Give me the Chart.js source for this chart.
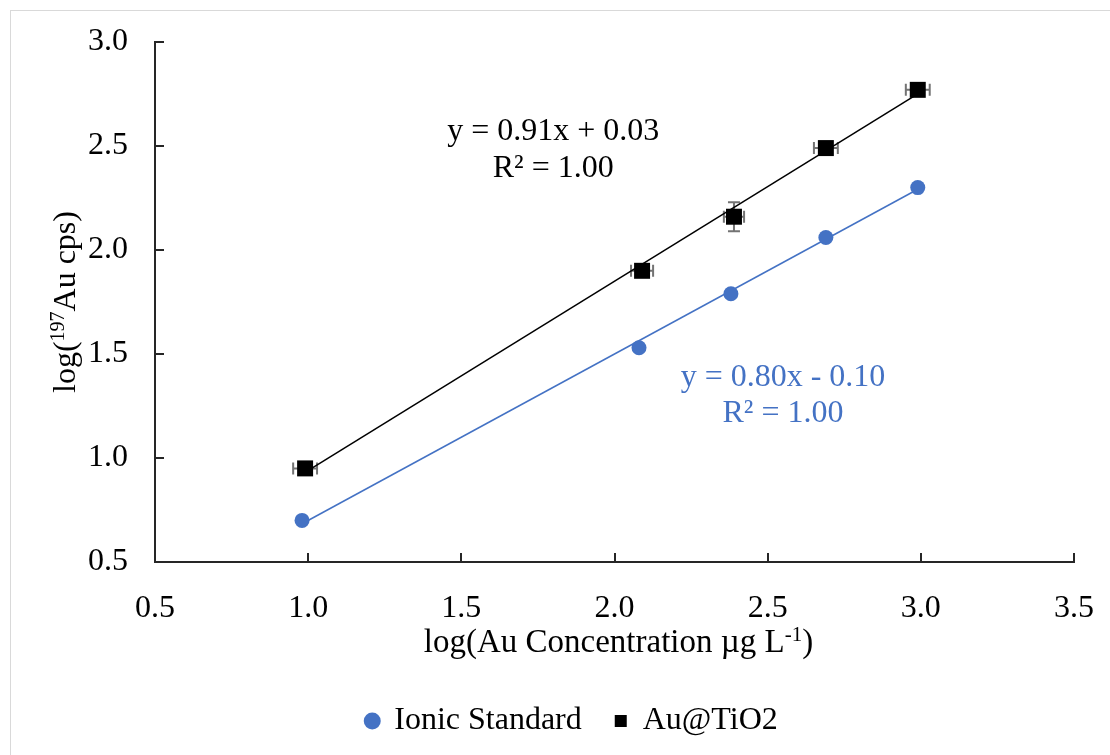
<!DOCTYPE html>
<html>
<head>
<meta charset="utf-8">
<script src="https://cdn.jsdelivr.net/npm/chart.js@4/dist/chart.umd.min.js"></script>
<style>
  html, body { margin: 0; padding: 0; background: #fff; }
  canvas { display: block; }
</style>
</head>
<body>
<canvas id="calib" width="1110" height="755"></canvas>
<script>
// log concentration (x) vs log counts (y) for both calibration sets
const ionicX = [0.98, 2.08, 2.38, 2.69, 2.99];
const ionicY = [0.70, 1.53, 1.79, 2.06, 2.30];
const auX = [0.99, 2.09, 2.39, 2.69, 2.99];
const auY = [0.95, 1.90, 2.16, 2.49, 2.77];
const auXErr = [0.039, 0.036, 0.033, 0.039, 0.039];
const auYErr = [0.01, 0.01, 0.07, 0.01, 0.01];

// linear fits as printed on the chart
const ionicFit = { slope: 0.80, intercept: -0.10 };
const auFit = { slope: 0.91, intercept: 0.03 };

const xTicks = [0.5, 1.0, 1.5, 2.0, 2.5, 3.0, 3.5];
const yTicks = [0.5, 1.0, 1.5, 2.0, 2.5, 3.0];

const BLUE = '#4472C4';
const FONT = '"Liberation Serif", "Times New Roman", serif';
const FS = 32;
const AXIS = '#262626';
const PLOT_BOTTOM = 562;
const PAD_BOTTOM = 8;

const pts = (xs, ys) => xs.map((x, i) => ({ x, y: ys[i] }));
const fitLine = (xs, fit) => {
  const lo = Math.min(...xs), hi = Math.max(...xs);
  return [lo, hi].map(x => ({ x, y: fit.slope * x + fit.intercept }));
};

// white page, thin frame, inward tick marks, error bars
const decor = {
  id: 'decor',
  beforeDraw(chart) {
    const ctx = chart.ctx;
    ctx.save();
    ctx.fillStyle = '#fff';
    ctx.fillRect(0, 0, chart.width, chart.height);
    ctx.strokeStyle = '#d9d9d9';
    ctx.lineWidth = 1;
    ctx.strokeRect(10.5, 10.5, chart.width + 20, chart.height + 20);
    ctx.restore();
  },
  beforeDatasetsDraw(chart) {
    const { ctx, scales: { x, y } } = chart;
    ctx.save();
    ctx.strokeStyle = '#737373';
    ctx.lineWidth = 2;
    const cap = 6;
    auX.forEach((vx, i) => {
      const px = x.getPixelForValue(vx), py = y.getPixelForValue(auY[i]);
      const x0 = x.getPixelForValue(vx - auXErr[i]), x1 = x.getPixelForValue(vx + auXErr[i]);
      const y0 = y.getPixelForValue(auY[i] + auYErr[i]), y1 = y.getPixelForValue(auY[i] - auYErr[i]);
      ctx.beginPath();
      ctx.moveTo(x0, py); ctx.lineTo(x1, py);
      ctx.moveTo(x0, py - cap); ctx.lineTo(x0, py + cap);
      ctx.moveTo(x1, py - cap); ctx.lineTo(x1, py + cap);
      ctx.moveTo(px, y0); ctx.lineTo(px, y1);
      ctx.moveTo(px - cap, y0); ctx.lineTo(px + cap, y0);
      ctx.moveTo(px - cap, y1); ctx.lineTo(px + cap, y1);
      ctx.stroke();
    });
    ctx.restore();
  },
  afterDraw(chart) {
    const { ctx, chartArea: a, scales: { x, y } } = chart;
    ctx.save();
    ctx.strokeStyle = AXIS;
    ctx.lineWidth = 2;
    ctx.beginPath();
    xTicks.forEach(v => {
      const px = Math.round(x.getPixelForValue(v));
      ctx.moveTo(px, a.bottom); ctx.lineTo(px, a.bottom - 9);
    });
    yTicks.forEach(v => {
      const py = Math.round(y.getPixelForValue(v));
      ctx.moveTo(a.left, py); ctx.lineTo(a.left + 9, py);
    });
    ctx.stroke();

    // fit equations
    const notes = [
      { x: 1.80, y: 2.53, text: 'y = 0.91x + 0.03', color: '#000' },
      { x: 1.80, y: 2.35, text: 'R² = 1.00', color: '#000' },
      { x: 2.55, y: 1.345, text: 'y = 0.80x - 0.10', color: BLUE },
      { x: 2.55, y: 1.175, text: 'R² = 1.00', color: BLUE }
    ];
    ctx.font = FS + 'px ' + FONT;
    ctx.textAlign = 'center';
    ctx.textBaseline = 'alphabetic';
    notes.forEach(n => {
      ctx.fillStyle = n.color;
      ctx.fillText(n.text, x.getPixelForValue(n.x), y.getPixelForValue(n.y));
    });

    // axis titles with superscripts
    const drawSup = (parts, cx, cy, size) => {
      const big = size + 'px ' + FONT, small = Math.round(size * 0.64) + 'px ' + FONT;
      let w = 0;
      parts.forEach(p => { ctx.font = p.sup ? small : big; w += ctx.measureText(p.t).width; });
      let cur = cx - w / 2;
      ctx.textAlign = 'left';
      ctx.fillStyle = '#000';
      parts.forEach(p => {
        ctx.font = p.sup ? small : big;
        ctx.fillText(p.t, cur, p.sup ? cy - 11 : cy);
        cur += ctx.measureText(p.t).width;
      });
    };
    drawSup([{ t: 'log(Au Concentration µg L' }, { t: '-1', sup: true }, { t: ')' }],
      (a.left + a.right) / 2 + 4, 652, 33);

    ctx.translate(75, (a.top + a.bottom) / 2);
    ctx.rotate(-Math.PI / 2);
    drawSup([{ t: 'log(' }, { t: '197', sup: true }, { t: 'Au cps)' }], 0, 0, FS);
    ctx.restore();
  }
};

new Chart(document.getElementById('calib'), {
  type: 'scatter',
  data: {
    datasets: [
      {
        label: 'Ionic Standard',
        data: pts(ionicX, ionicY),
        pointStyle: 'circle',
        pointRadius: 7.5,
        backgroundColor: BLUE,
        borderColor: BLUE,
        borderWidth: 0,
        order: 1
      },
      {
        label: 'Au@TiO2',
        data: pts(auX, auY),
        pointStyle: 'rect',
        pointRadius: 11.3,
        backgroundColor: '#000',
        borderColor: '#000',
        borderWidth: 0,
        order: 1
      },
      {
        label: 'fit-ionic',
        data: fitLine(ionicX, ionicFit),
        showLine: true,
        pointRadius: 0,
        borderColor: BLUE,
        borderWidth: 1.5,
        order: 2
      },
      {
        label: 'fit-au',
        data: fitLine(auX, auFit),
        showLine: true,
        pointRadius: 0,
        borderColor: '#000',
        borderWidth: 1.5,
        order: 2
      }
    ]
  },
  options: {
    responsive: false,
    animation: false,
    events: [],
    layout: { padding: { left: 70, right: 36, top: 42, bottom: PAD_BOTTOM } },
    scales: {
      x: {
        type: 'linear',
        min: 0.5,
        max: 3.5,
        afterFit: s => {
          const lg = s.chart.legend ? s.chart.legend.height : 0;
          s.height = s.chart.height - PAD_BOTTOM - lg - PLOT_BOTTOM;
          s.paddingLeft = 0;
          s.paddingRight = 0;
        },
        afterBuildTicks: s => { s.ticks = xTicks.map(v => ({ value: v })); },
        ticks: {
          padding: 27,
          color: '#000',
          font: { family: FONT, size: FS },
          callback: v => v.toFixed(1)
        },
        grid: { display: false, drawTicks: false },
        border: { display: true, color: AXIS, width: 2 }
      },
      y: {
        type: 'linear',
        min: 0.5,
        max: 3.0,
        afterFit: s => {
          s.width = 85;
          s.paddingTop = 0;
          s.paddingBottom = 0;
        },
        afterBuildTicks: s => { s.ticks = yTicks.map(v => ({ value: v })); },
        ticks: {
          padding: 27,
          color: '#000',
          font: { family: FONT, size: FS },
          callback: v => v.toFixed(1)
        },
        grid: { display: false, drawTicks: false },
        border: { display: true, color: AXIS, width: 2 }
      }
    },
    plugins: {
      tooltip: { enabled: false },
      legend: {
        position: 'bottom',
        labels: {
          usePointStyle: true,
          boxWidth: 12,
          boxHeight: 12,
          padding: 33,
          color: '#000',
          font: { family: FONT, size: FS },
          filter: item => !item.text.startsWith('fit-')
        }
      }
    }
  },
  plugins: [decor]
});
</script>
</body>
</html>
